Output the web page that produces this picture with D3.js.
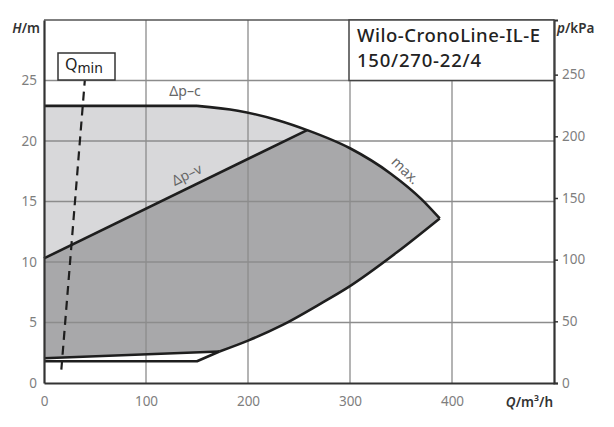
<!DOCTYPE html>
<html>
<head>
<meta charset="utf-8">
<script src="https://cdn.jsdelivr.net/npm/d3@7"></script>
<style>
  body { margin: 0; background: #fff; }
  text { font-family: "Noto Sans", "DejaVu Sans", sans-serif; }
</style>
</head>
<body>
<svg id="canvas"></svg>
<script>
// data (Q in m3/h, H in m)
let qTicks = [0, 100, 200, 300, 400];
let hTicks = [0, 5, 10, 15, 20, 25];
let pTicks = [0, 50, 100, 150, 200, 250];

let dpcTop = [[0, 22.9], [150, 22.9]];
let maxCurve = [[150, 22.9], [190, 22.5], [230, 21.7], [258, 20.9], [300, 19.4], [340, 17.3], [370, 15.2], [388, 13.6]];
let dpvTop = [[0, 10.3], [258, 20.9]];
let minCurve = [[172, 2.6], [200, 3.5], [234, 4.8], [270, 6.5], [298, 7.9], [346, 10.8], [388, 13.6]];
let dpvBottom = [[0, 2.05], [172, 2.6]];
let dpcBottom = [[0, 1.8], [150, 1.8], [172, 2.6]];
let qmin = [[17, 1.1], [40, 25]];

let width = 614;
let height = 427;

let canvas = d3.select("#canvas").attr("width", width).attr("height", height);

let xScale = d3.scaleLinear().domain([0, 500]).range([44, 554]);
let yScale = d3.scaleLinear().domain([0, 30]).range([383, 20]);
let pScale = d3.scaleLinear().domain([0, 30 * 9.81]).range([383, 20]);

let line = d3.line().x((d) => xScale(d[0])).y((d) => yScale(d[1]));
let smooth = d3.line().x((d) => xScale(d[0])).y((d) => yScale(d[1])).curve(d3.curveMonotoneX);

// join path pieces into one outline
let joinPaths = (parts) => parts.map((p, i) => (i == 0 ? p : "L" + p.slice(1))).join("") + "Z";

let maxIdx = maxCurve.findIndex((d) => d[0] == 258);
let maxA = maxCurve.slice(0, maxIdx + 1);
let maxB = maxCurve.slice(maxIdx);

// light area (dp-c range)
canvas.append("path")
  .attr("d", joinPaths([line(dpcTop), smooth(maxA), line(dpvTop.slice().reverse())]))
  .attr("fill", "#d8d8da");

// dark area (dp-v range)
canvas.append("path")
  .attr("d", joinPaths([line(dpvTop), smooth(maxB), smooth(minCurve.slice().reverse()), line(dpvBottom.slice().reverse())]))
  .attr("fill", "#a8a8aa");

// grid
let grid = canvas.append("g").attr("stroke", "#8c8c8c").attr("stroke-width", 1.3);
qTicks.filter((d) => d > 0).forEach((q) => {
  grid.append("line")
    .attr("x1", xScale(q)).attr("x2", xScale(q))
    .attr("y1", yScale(0)).attr("y2", yScale(30));
});
hTicks.filter((d) => d > 0).forEach((h) => {
  grid.append("line")
    .attr("x1", xScale(0)).attr("x2", xScale(500))
    .attr("y1", yScale(h)).attr("y2", yScale(h));
});

// frame
canvas.append("line").attr("x1", xScale(0)).attr("x2", xScale(500))
  .attr("y1", yScale(30)).attr("y2", yScale(30)).attr("stroke", "#555").attr("stroke-width", 1.5);

// curves
let curves = canvas.append("g").attr("fill", "none").attr("stroke", "#1e1e1e").attr("stroke-width", 2.6).attr("stroke-linejoin", "round");
curves.append("path").attr("d", line(dpcTop));
curves.append("path").attr("d", smooth(maxCurve));
curves.append("path").attr("d", line(dpvTop));
curves.append("path").attr("d", smooth(minCurve));
curves.append("path").attr("d", line(dpvBottom));
curves.append("path").attr("d", line(dpcBottom));

// Qmin dashed line
canvas.append("path").attr("d", line(qmin))
  .attr("fill", "none").attr("stroke", "#1e1e1e").attr("stroke-width", 2.2)
  .attr("stroke-dasharray", "9,6");

// axes
let xAxis = d3.axisBottom(xScale).tickValues(qTicks).tickSize(0).tickPadding(13);
let yAxis = d3.axisLeft(yScale).tickValues(hTicks).tickSize(0).tickPadding(7);
let pAxis = d3.axisRight(pScale).tickValues(pTicks).tickSize(4).tickPadding(4);

let gx = canvas.append("g").attr("transform", "translate(0," + yScale(0) + ")").call(xAxis);
let gy = canvas.append("g").attr("transform", "translate(" + xScale(0) + ",0)").call(yAxis);
let gp = canvas.append("g").attr("transform", "translate(" + xScale(500) + ",0)").call(pAxis);

[gx, gy, gp].forEach((g) => {
  g.select(".domain").attr("stroke", "#333").attr("stroke-width", 2.2);
  g.selectAll(".tick line").attr("stroke", "#333").attr("stroke-width", 1.5);
  g.selectAll(".tick text").attr("fill", "#7e7e7e").attr("font-size", 13.5)
    .style("font-family", "'Noto Sans', sans-serif");
});

// title box
canvas.append("rect")
  .attr("x", 349).attr("y", yScale(30)).attr("width", xScale(500) - 349).attr("height", yScale(25) - yScale(30))
  .attr("fill", "#fff").attr("stroke", "#444").attr("stroke-width", 1.5);
canvas.append("text").attr("x", 357).attr("y", 42).attr("font-size", 18.5).attr("font-weight", 500).attr("fill", "#222")
  .attr("textLength", 183).attr("lengthAdjust", "spacing")
  .text("Wilo-CronoLine-IL-E");
canvas.append("text").attr("x", 357).attr("y", 67).attr("font-size", 18.5).attr("font-weight", 500).attr("fill", "#222")
  .attr("textLength", 124).attr("lengthAdjust", "spacing")
  .text("150/270-22/4");

// Qmin box
canvas.append("rect").attr("x", 58).attr("y", 53).attr("width", 57).attr("height", 27)
  .attr("fill", "#fff").attr("stroke", "#333").attr("stroke-width", 1.5);
let qt = canvas.append("text").attr("x", 65).attr("y", 70).attr("fill", "#222").attr("font-size", 16);
qt.append("tspan").text("Q");
qt.append("tspan").attr("font-size", 14).attr("dy", 3).text("min");

// axis titles
canvas.append("text").attr("x", 40).attr("y", 33).attr("text-anchor", "end")
  .attr("font-size", 13.5).attr("font-weight", 600).attr("fill", "#333")
  .html("<tspan font-style='italic'>H</tspan>/m");
canvas.append("text").attr("x", 557).attr("y", 33)
  .attr("font-size", 13.5).attr("font-weight", 600).attr("fill", "#333")
  .html("<tspan font-style='italic'>p</tspan>/kPa");
canvas.append("text").attr("x", 553).attr("y", 407).attr("text-anchor", "end")
  .attr("font-size", 13.5).attr("font-weight", 600).attr("fill", "#333")
  .html("<tspan font-style='italic'>Q</tspan>/m³/h");

// curve labels
canvas.append("text").attr("x", 185).attr("y", 96).attr("text-anchor", "middle")
  .attr("font-size", 14).attr("fill", "#666").text("Δp–c");
canvas.append("text").attr("transform", "translate(189,179) rotate(-26)").attr("text-anchor", "middle")
  .attr("font-size", 14).attr("fill", "#666").text("Δp–v");
canvas.append("text").attr("transform", "translate(402,174) rotate(44)").attr("text-anchor", "middle")
  .attr("font-size", 14).attr("fill", "#666").text("max.");
</script>
</body>
</html>
